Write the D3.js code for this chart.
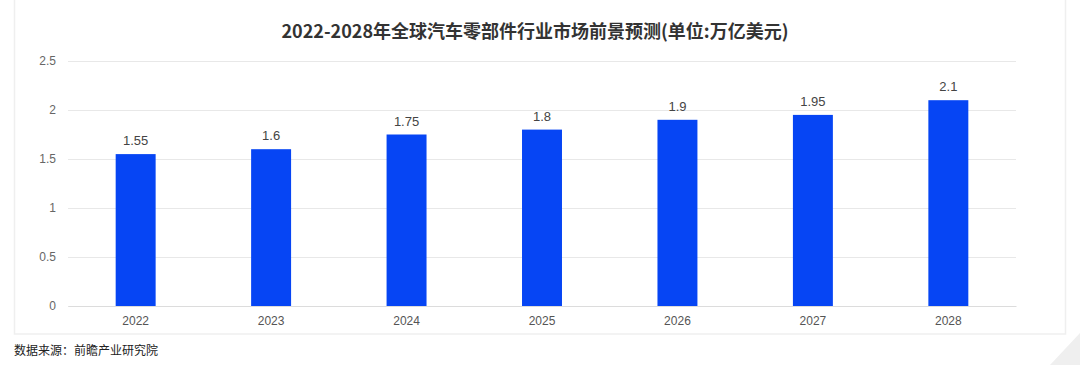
<!DOCTYPE html>
<html><head><meta charset="utf-8">
<script src="https://cdn.jsdelivr.net/npm/d3@7"></script>
<style>html,body{margin:0;padding:0;background:#fff;}svg{display:block;}</style>
</head><body>
<svg id="chart" width="1080" height="365"></svg>
<script>
const categories = ["2022","2023","2024","2025","2026","2027","2028"];
const values = [1.55, 1.6, 1.75, 1.8, 1.9, 1.95, 2.1];
const yTicks = [0, 0.5, 1, 1.5, 2, 2.5];
const titleText = "2022-2028年全球汽车零部件行业市场前景预测(单位:万亿美元)";
const sourceText = "数据来源：前瞻产业研究院";

const svg = d3.select("#chart");
const m = {left: 68, right: 1016, top: 61, bottom: 306};

// panel
svg.append("rect").attr("x", 14.5).attr("y", -2).attr("width", 1051).attr("height", 336)
  .attr("fill", "#fff").attr("stroke", "#efefef").attr("stroke-width", 1.5);
// corner decoration
svg.append("path").attr("d", "M1050,365 L1080,333 L1080,365 Z").attr("fill", "#efefef");

const x = d3.scaleBand().domain(categories).range([m.left, m.right]).paddingInner(0.705).paddingOuter(0.352);
const y = d3.scaleLinear().domain([0, 2.5]).range([m.bottom, m.top]);

const font = "'Liberation Sans', Arial, sans-serif";

// grid
const yAxis = d3.axisLeft(y).tickValues(yTicks).tickFormat(d3.format("~g")).tickSize(-(m.right - m.left)).tickPadding(12);
const gy = svg.append("g").attr("transform", `translate(${m.left},0)`).call(yAxis);
gy.select(".domain").remove();
gy.selectAll(".tick line").attr("stroke", "#e8e8e8").attr("stroke-width", 1);
gy.selectAll(".tick text").attr("fill", "#666").attr("font-size", 12).attr("font-family", font);

// x axis
const xAxis = d3.axisBottom(x).tickSize(0).tickPadding(10);
const gx = svg.append("g").attr("transform", `translate(0,${m.bottom})`).call(xAxis);
gx.select(".domain").attr("stroke", "#dcdcdc");
gx.selectAll(".tick text").attr("fill", "#555").attr("font-size", 12).attr("font-family", font);

// bars
svg.append("g").selectAll("rect").data(values).join("rect")
  .attr("x", (d, i) => x(categories[i]))
  .attr("width", x.bandwidth())
  .attr("y", d => y(d))
  .attr("height", d => y(0) - y(d))
  .attr("fill", "#0645f4");

// labels
svg.append("g").selectAll("text").data(values).join("text")
  .attr("x", (d, i) => x(categories[i]) + x.bandwidth() / 2)
  .attr("y", d => y(d) - 9)
  .attr("text-anchor", "middle")
  .attr("fill", "#444").attr("font-size", 13).attr("font-family", font)
  .text(d => d3.format("~g")(d));

// title
svg.append("text").attr("x", 535).attr("y", 38).attr("text-anchor", "middle")
  .attr("font-family", "'Noto Sans CJK SC', sans-serif").attr("font-weight", "bold")
  .attr("font-size", 18).attr("fill", "#333").text(titleText);

// source
svg.append("text").attr("x", 14).attr("y", 355)
  .attr("font-family", "'Noto Sans CJK SC', sans-serif")
  .attr("font-size", 12).attr("fill", "#222").text(sourceText);
</script>
</body></html>
